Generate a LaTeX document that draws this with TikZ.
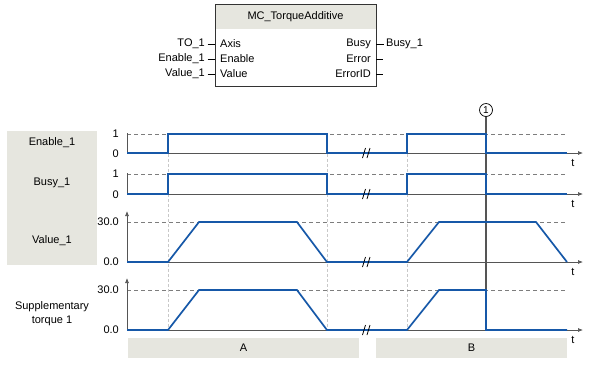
\documentclass[tikz,border=0pt]{standalone}
\usepackage{fontspec}
\setmainfont{Liberation Sans}
\usetikzlibrary{arrows.meta}
\definecolor{sigblue}{RGB}{22,88,168}
\definecolor{boxgray}{RGB}{230,230,223}
\definecolor{axgray}{RGB}{85,85,85}
\definecolor{dashgray}{RGB}{125,125,125}
\definecolor{guidegray}{RGB}{200,200,200}
\begin{document}
\begin{tikzpicture}[x=1pt,y=-1pt, font=\fontsize{11}{13}\selectfont,
  sig/.style={sigblue, line width=1.7pt, line join=miter},
  axisline/.style={axgray, line width=0.7pt},
  taxis/.style={axisline, -{Latex[length=5pt,width=4pt]}},
  levelline/.style={dashgray, dash pattern=on 4pt off 3pt, line width=0.7pt},
  guide/.style={guidegray, dash pattern=on 3pt off 2pt, line width=0.6pt},
  ylbl/.style={inner sep=0pt, anchor=east},
  rowlbl/.style={inner sep=0pt, align=center},
  pin/.style={line width=0.6pt, black},
  brk/.style={black, line width=0.8pt},
  bar/.style={fill=boxgray, draw=none},
  ]
\useasboundingbox (0,0) rectangle (589,365);

% ---------- function block ----------
\fill[boxgray] (215,4) rectangle (376,29);
\node[draw=black!80, line width=0.7pt, minimum width=161pt, minimum height=82pt, inner sep=0pt] (fb) at (295.5,45) {};
\node[inner sep=0pt] (title) at (295.5,17) {MC\_TorqueAdditive};
\node[inner sep=0pt, anchor=west] (pAxis) at (220,44) {Axis};
\node[inner sep=0pt, anchor=west] (pEnable) at (220,59) {Enable};
\node[inner sep=0pt, anchor=west] (pValue) at (220,74) {Value};
\node[inner sep=0pt, anchor=east] (pBusy) at (371,44) {Busy};
\node[inner sep=0pt, anchor=east] (pError) at (371,59) {Error};
\node[inner sep=0pt, anchor=east] (pErrorID) at (371,74) {ErrorID};
\node[inner sep=0pt, anchor=east] (iTO) at (205,44) {TO\_1};
\node[inner sep=0pt, anchor=east] (iEn) at (205,59) {Enable\_1};
\node[inner sep=0pt, anchor=east] (iVal) at (205,74) {Value\_1};
\node[inner sep=0pt, anchor=west] (oBusy) at (386,44) {Busy\_1};
\coordinate (cErr) at (383,59);
\coordinate (cErrID) at (383,74);
\draw[pin] (207.5,44) -- (215,44);
\draw[pin] (207.5,59) -- (215,59);
\draw[pin] (207.5,74) -- (215,74);
\draw[pin] (376,44) -- (383.5,44);
\draw[pin] (376,59) -- (cErr);
\draw[pin] (376,74) -- (cErrID);

% ---------- row labels ----------
\fill[boxgray] (7,131) rectangle (97,265);
\node[rowlbl] (lEn) at (52,143) {Enable\_1};
\node[rowlbl] (lBusy) at (52,183) {Busy\_1};
\node[rowlbl] (lVal) at (52,241) {Value\_1};
\node[rowlbl] (lSup) at (52,314) {Supplementary\\[1pt]torque 1};

% ---------- guide lines ----------
\foreach \gx in {168,327,407}
  \draw[guide] (\gx,134) -- (\gx,330);

% ---------- level lines ----------
\foreach \ly in {134,174,222,290}
  \draw[levelline] (127,\ly) -- (567,\ly);

% ---------- axes ----------
\draw[axisline] (127,133) -- (127,153);
\draw[axisline] (127,173) -- (127,194);
\draw[axisline, -{Latex[length=5pt,width=4pt]}] (127,262) -- (127,211);
\draw[axisline, -{Latex[length=5pt,width=4pt]}] (127,330) -- (127,278);
\foreach \ay/\nm in {153/en,194/bu,262/va,330/su}{
  \draw[taxis] (127,\ay) -- (583,\ay);
  \node[inner sep=0pt] (t\nm) at (573,\ay+10) {t};
}

\node[ylbl] (y1a) at (119,134) {1};
\node[ylbl] (y0a) at (119,154) {0};
\node[ylbl] (y1b) at (119,174) {1};
\node[ylbl] (y0b) at (119,195) {0};
\node[ylbl] (y30a) at (119,222) {30.0};
\node[ylbl] (y00a) at (119,262) {0.0};
\node[ylbl] (y30b) at (119,290) {30.0};
\node[ylbl] (y00b) at (119,330) {0.0};

% ---------- event 1 ----------
\node[draw=black, line width=0.7pt, circle, minimum size=13pt, inner sep=0pt, font=\fontsize{10}{11}\selectfont] (ev) at (486,110) {1};
\coordinate (evb) at (486,330);
\draw[axgray, line width=1.3pt] (ev.south) -- (evb);

% ---------- signals ----------
\draw[sig] (127,153) -- (168,153) -- (168,134) -- (327,134) -- (327,153) -- (407,153) -- (407,134) -- (486,134) -- (486,153) -- (567,153);
\draw[sig] (127,194) -- (168,194) -- (168,174) -- (327,174) -- (327,194) -- (407,194) -- (407,174) -- (486,174) -- (486,194) -- (567,194);
\draw[sig] (127,262) -- (168,262) -- (199,222) -- (297,222) -- (327,262) -- (407,262) -- (439,222) -- (536,222) -- (567,262);
\draw[sig] (127,330) -- (168,330) -- (199,290) -- (297,290) -- (327,330) -- (407,330) -- (439,290) -- (486,290) -- (486,330) -- (567,330);

% ---------- break marks ----------
\foreach \by in {153,194,262,330}{
  \draw[brk] (362.5,\by+5) -- (365.5,\by-5);
  \draw[brk] (367,\by+5) -- (370,\by-5);
}

% ---------- phase bars ----------
\node[bar, minimum width=231pt, minimum height=20pt, inner sep=0pt] (barA) at (243.5,348) {A};
\node[bar, minimum width=191pt, minimum height=20pt, inner sep=0pt] (barB) at (471.5,348) {B};
\end{tikzpicture}
\end{document}
